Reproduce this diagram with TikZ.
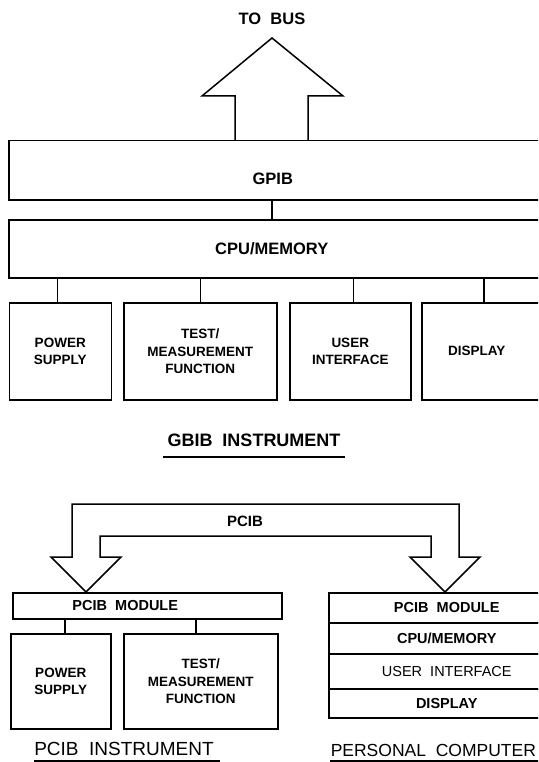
\documentclass[tikz,border=0pt]{standalone}
\usepackage{fontspec}
\setmainfont{Liberation Sans}
\usetikzlibrary{calc}
\begin{document}
\begin{tikzpicture}[x=1pt,y=-1pt,line width=1.5pt,line join=miter,
  box/.style={draw,rectangle,inner sep=0pt,anchor=north west},
  big/.style={font=\fontsize{16.5}{20}\selectfont\bfseries},
  lbl/.style={font=\fontsize{13.5}{17.5}\selectfont\bfseries,align=center},
  stk/.style={font=\fontsize{14.5}{17}\selectfont\bfseries},
  captxt/.style={font=\fontsize{19}{22}\selectfont},
  captxtb/.style={font=\fontsize{18}{22}\selectfont\bfseries}]
\useasboundingbox (0,0) rectangle (538,762);
\clip (0,0) rectangle (538,762);

% ---------- GPIB instrument ----------
\node[big] (tobus) at (272,19) {TO\ \ BUS};
\node[box,minimum width=532pt,minimum height=59pt,
      label={[big,yshift=-9pt,xshift=-2pt]center:GPIB}] (gpib) at (8,140) {};
\node[box,minimum width=532pt,minimum height=58pt,
      label={[big,xshift=-3pt]center:CPU/MEMORY}] (cpu) at (8,219) {};

\coordinate (tip) at (272,38);
\coordinate (sl) at (235,96);
\coordinate (sr) at (308,96);
\draw (gpib.north -| sl) -- (sl) -- (202,96) -- (tip) -- (343,96) -- (sr) -- (gpib.north -| sr);
\draw (gpib.south -| tip) -- (cpu.north -| tip);

\node[box,lbl,minimum width=102pt,minimum height=97pt] (ps) at (8.5,302) {POWER\\SUPPLY};
\node[box,lbl,minimum width=153pt,minimum height=97pt] (tm) at (123,302) {TEST/\\MEASUREMENT\\FUNCTION};
\node[box,lbl,minimum width=121pt,minimum height=97pt] (ui) at (289,302) {USER\\INTERFACE};
\node[box,minimum width=124pt,minimum height=97pt,
      label={[lbl,xshift=-7pt]center:DISPLAY}] (dp) at (421,302) {};

\draw ([xshift=-3pt]ps.north) -- ([xshift=-3pt]ps.north |- cpu.south);
\draw (tm.north) -- (tm.north |- cpu.south);
\draw ([xshift=3pt]ui.north) -- ([xshift=3pt]ui.north |- cpu.south);
\draw (dp.north) -- (dp.north |- cpu.south);

\node[captxtb] (gbib) at (254,440) {GBIB\ \ INSTRUMENT};
\draw (gbib.south west |- 0,457) -- (gbib.south east |- 0,457);

% ---------- PCIB ----------
\node[box,minimum width=269pt,minimum height=26pt,
      label={[stk,xshift=-22pt]center:PCIB\ \ MODULE}] (pm) at (12,592) {};
\node[box,minimum width=236pt,minimum height=30pt,stk] (pc1) at (328,592) {PCIB\ \ MODULE};
\node[box,minimum width=236pt,minimum height=31pt,stk] (pc2) at (328,622) {CPU/MEMORY};
\node[box,minimum width=236pt,minimum height=35pt,font=\fontsize{14.5}{17}\selectfont] (pc3) at (328,653) {USER\ \ INTERFACE};
\node[box,minimum width=236pt,minimum height=29pt,stk] (pc4) at (328,688) {DISPLAY};

\coordinate (tl) at (86,592);
\coordinate (tr) at (445,592);
\draw (tl) -- (51,557) -- (72,557) -- (72,504) -- (459,504) -- (459,557) -- (480,557)
      -- (tr) -- (410,557) -- (431,557) -- (431,536) -- (100,536) -- (100,557)
      -- (121,557) -- cycle;
\node[font=\fontsize{15}{18}\selectfont\bfseries] (pcib) at (245,521) {PCIB};

\node[box,lbl,minimum width=100pt,minimum height=95pt] (ps2) at (10,633) {POWER\\SUPPLY};
\node[box,lbl,minimum width=154pt,minimum height=95pt] (tm2) at (123,633) {TEST/\\MEASUREMENT\\FUNCTION};
\draw ([xshift=4pt]ps2.north) -- ([xshift=4pt]ps2.north |- pm.south);
\draw ([xshift=-5pt]tm2.north) -- ([xshift=-5pt]tm2.north |- pm.south);

\node[captxt] (pcibi) at (124,749) {PCIB\ \ INSTRUMENT};
\draw (34,761) -- (220,761);
\node[captxt,font=\fontsize{17.5}{21}\selectfont,anchor=west,inner sep=0pt] (pcom) at (330,750) {PERSONAL\ \ COMPUTER};
\draw (pcom.west |- 0,761) -- (540,761);
\end{tikzpicture}
\end{document}
